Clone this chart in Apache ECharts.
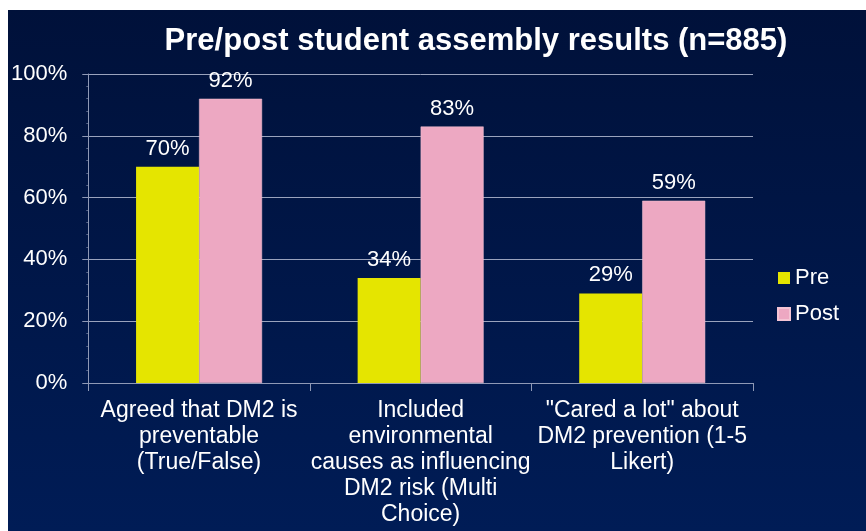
<!DOCTYPE html>
<html>
<head>
<meta charset="utf-8">
<script src="https://cdn.jsdelivr.net/npm/echarts@6/dist/echarts.min.js"></script>
<style>
  html, body { margin: 0; padding: 0; background: #ffffff; width: 866px; height: 531px; overflow: hidden; }
  #chart { position: absolute; left: 8px; top: 10px; width: 858px; height: 521px; }
</style>
</head>
<body>
<div id="chart"></div>
<script>
const titleText = 'Pre/post student assembly results (n=885)';
const categories = [
  'Agreed that DM2 is\npreventable\n(True/False)',
  'Included\nenvironmental\ncauses as influencing\nDM2 risk (Multi\nChoice)',
  '"Cared a lot" about\nDM2 prevention (1-5\nLikert)'
];
const seriesNames = ['Pre', 'Post'];
const preValues = [70, 34, 29];
const postValues = [92, 83, 59];
const yTicks = [0, 20, 40, 60, 80, 100];

const FONT = '"Liberation Sans", Arial, sans-serif';
const chart = echarts.init(document.getElementById('chart'), null, { renderer: 'canvas' });

const labelOpt = {
  show: true,
  position: 'top',
  distance: 7,
  color: '#ffffff',
  fontFamily: FONT,
  fontSize: 22,
  formatter: p => p.value + '%'
};

chart.setOption({
  animation: false,
  backgroundColor: {
    type: 'linear', x: 0, y: 0, x2: 0, y2: 1,
    colorStops: [
      { offset: 0, color: '#00113a' },
      { offset: 1, color: '#001c56' }
    ]
  },
  title: {
    text: titleText,
    left: 463,
    top: 11,
    textAlign: 'center',
    textStyle: { color: '#ffffff', fontFamily: FONT, fontWeight: 'bold', fontSize: 31 }
  },
  legend: {
    orient: 'vertical',
    left: 769,
    top: 256,
    padding: 0,
    itemWidth: 12,
    itemHeight: 12,
    itemGap: 12,
    itemTextGap: 6,
    icon: 'rect',
    data: seriesNames,
    textStyle: { color: '#ffffff', fontFamily: FONT, fontSize: 22, lineHeight: 24 }
  },
  grid: { left: 78, right: 113, top: 64, bottom: 148, containLabel: false },
  xAxis: {
    type: 'category',
    data: categories,
    axisLine: { show: true, lineStyle: { color: '#8f99b6', width: 1 } },
    axisTick: { show: true, length: 8, lineStyle: { color: '#8f99b6' } },
    axisLabel: {
      interval: 0,
      color: '#ffffff',
      fontFamily: FONT,
      fontSize: 23,
      lineHeight: 26,
      margin: 15,
      align: 'center'
    }
  },
  yAxis: {
    type: 'value',
    min: yTicks[0],
    max: yTicks[yTicks.length - 1],
    interval: 20,
    axisLine: { show: true, lineStyle: { color: '#8f99b6', width: 1 } },
    axisTick: { show: true, length: 6, lineStyle: { color: '#8f99b6' } },
    minorTick: { show: true, splitNumber: 5, length: 2, lineStyle: { color: 'rgba(143,153,182,0.6)' } },
    splitLine: { show: true, lineStyle: { color: '#9aa3bd', width: 1 } },
    axisLabel: {
      color: '#ffffff',
      fontFamily: FONT,
      fontSize: 22,
      margin: 21,
      formatter: v => v + '%'
    }
  },
  series: [
    {
      name: seriesNames[0],
      type: 'bar',
      data: preValues,
      barWidth: 63,
      barGap: '0%',
      itemStyle: { color: '#e5e500' },
      label: labelOpt
    },
    {
      name: seriesNames[1],
      type: 'bar',
      data: postValues,
      barWidth: 63,
      barGap: '0%',
      itemStyle: { color: '#eda8c2', borderColor: '#f4c4d4', borderWidth: 0.5 },
      label: labelOpt
    }
  ]
});
</script>
</body>
</html>
